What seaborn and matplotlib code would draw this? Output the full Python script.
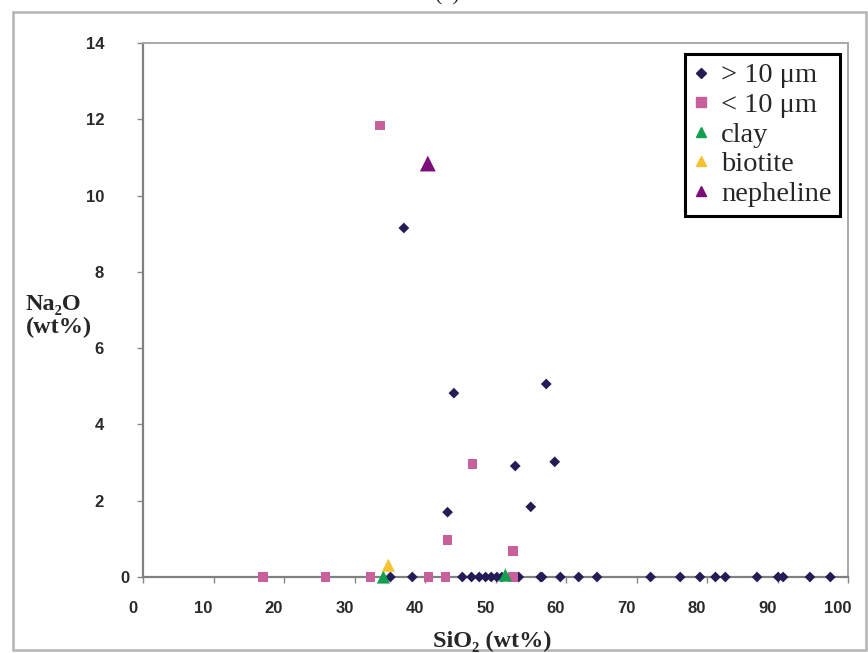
import matplotlib
matplotlib.use('Agg')
import matplotlib.pyplot as plt
import matplotlib.transforms as mtransforms
from matplotlib.lines import Line2D
from matplotlib.patches import Rectangle
import pandas as pd
import seaborn as sns

# values (wt%)
big_sio2 = [37.0, 44.1, 57.2, 52.8, 58.4, 43.2, 55.0,
            35.1, 38.2, 45.3, 46.6, 47.7, 48.6, 49.4, 50.2, 50.9, 53.3,
            56.4, 56.6, 59.2, 61.8, 64.4, 72.0, 76.2, 79.0, 81.2, 82.6,
            87.1, 90.1, 90.8, 94.6, 97.5]
big_na2o = [9.15, 4.82, 5.06, 2.91, 3.02, 1.70, 1.84,
            0, 0, 0, 0, 0, 0, 0, 0, 0, 0,
            0, 0, 0, 0, 0, 0, 0, 0, 0, 0,
            0, 0, 0, 0, 0]
small_sio2 = [33.6, 46.7, 43.2, 52.5, 17.0, 25.9, 32.3, 40.5, 42.9, 52.5]
small_na2o = [11.83, 2.96, 0.97, 0.68, 0, 0, 0, 0, 0, 0]
clay_sio2 = [34.1, 51.4]
clay_na2o = [0.0, 0.05]
biotite_sio2 = [34.8]
biotite_na2o = [0.31]
nepheline_sio2 = [40.4]
nepheline_na2o = [10.84]

groups = ['> 10 μm', '< 10 μm', 'clay', 'biotite', 'nepheline']
x_ticks = [0, 10, 20, 30, 40, 50, 60, 70, 80, 90, 100]
y_ticks = [0, 2, 4, 6, 8, 10, 12, 14]

# build one long table
df = pd.concat([
    pd.DataFrame({'SiO2': big_sio2, 'Na2O': big_na2o, 'group': groups[0]}),
    pd.DataFrame({'SiO2': small_sio2, 'Na2O': small_na2o, 'group': groups[1]}),
    pd.DataFrame({'SiO2': clay_sio2, 'Na2O': clay_na2o, 'group': groups[2]}),
    pd.DataFrame({'SiO2': biotite_sio2, 'Na2O': biotite_na2o, 'group': groups[3]}),
    pd.DataFrame({'SiO2': nepheline_sio2, 'Na2O': nepheline_na2o, 'group': groups[4]}),
], ignore_index=True)

colors = ['#241c55', '#c8609c', '#12a050', '#f5c232', '#7c0c7a']
markers = ['D', 's', '^', '^', '^']
sizes = [30, 45, 90, 90, 130]
legend_ms = [5, 6.5, 7.5, 7.5, 7.5]

sns.set_style('white')
plt.rcParams['font.family'] = ['Liberation Sans', 'DejaVu Sans']

fig = plt.figure(figsize=(8.68, 6.53), dpi=100)
ax = fig.add_axes([143 / 868, 1 - 577 / 653, 705 / 868, 534 / 653])

for i, g in enumerate(groups):
    sns.scatterplot(data=df[df['group'] == g], x='SiO2', y='Na2O',
                    marker=markers[i], color=colors[i], s=sizes[i],
                    linewidth=0, edgecolor='none', ax=ax, zorder=3 + i,
                    clip_on=False, legend=False)

ax.set_xlim(0, 100)
ax.set_ylim(0, 14)
ax.set_xticks(x_ticks)
ax.set_yticks(y_ticks)
ax.set_xlabel('')
ax.set_ylabel('')
ax.tick_params(axis='both', direction='out', length=4, width=1, color='#888888',
               labelsize=12, labelcolor='#2a2a2a')
ax.tick_params(axis='x', pad=13)
ax.tick_params(axis='y', pad=24)
ax.tick_params(left=True, bottom=True)
for lab in ax.get_xticklabels() + ax.get_yticklabels():
    lab.set_fontweight('bold')

for side in ['left', 'bottom']:
    ax.spines[side].set_color('#808080')
    ax.spines[side].set_linewidth(1.6)
for side in ['top', 'right']:
    ax.spines[side].set_color('#a8a8a8')
    ax.spines[side].set_linewidth(1.4)

# the original tick labels sit a little off their ticks
for lab in ax.get_xticklabels():
    lab.set_transform(lab.get_transform() +
                      mtransforms.ScaledTranslation(-0.10, 0, fig.dpi_scale_trans))
ylabs = ax.get_yticklabels()
ylabs[0].set_transform(ylabs[0].get_transform() +
                       mtransforms.ScaledTranslation(0.25, 0, fig.dpi_scale_trans))

serif = ['Liberation Serif', 'DejaVu Serif']
fig.text(26 / 868, 1 - 316 / 653, 'Na₂O\n(wt%)', ha='left', va='center',
         fontsize=17.5, fontweight='bold', family=serif, linespacing=1.15)
fig.text(492 / 868, 1 - 647 / 653, 'SiO₂ (wt%)', ha='center', va='baseline',
         fontsize=17.5, fontweight='bold', family=serif)
fig.text(447 / 868, 1.0, '(c)', ha='center', va='baseline',
         fontsize=16, family=serif)

handles = [Line2D([], [], marker=markers[i], color=colors[i], linestyle='none',
                  markersize=legend_ms[i]) for i in range(len(groups))]
leg = ax.legend(handles, groups, loc='upper right',
                bbox_to_anchor=(840 / 868, 1 - 54 / 653),
                bbox_transform=fig.transFigure,
                prop={'family': serif, 'size': 20.5},
                frameon=True, fancybox=False, framealpha=1,
                edgecolor='black', borderpad=0.3, labelspacing=0.13,
                handlelength=0.5, handletextpad=0.45, borderaxespad=0)
leg.get_frame().set_linewidth(2.2)

# outer chart border
fig.patches.append(Rectangle((13 / 868, 1 - 650 / 653), 853 / 868, 638 / 653,
                             transform=fig.transFigure, fill=False,
                             edgecolor='#b4b4b4', linewidth=1.8))

fig.savefig('out.png', dpi=100, facecolor='white')
